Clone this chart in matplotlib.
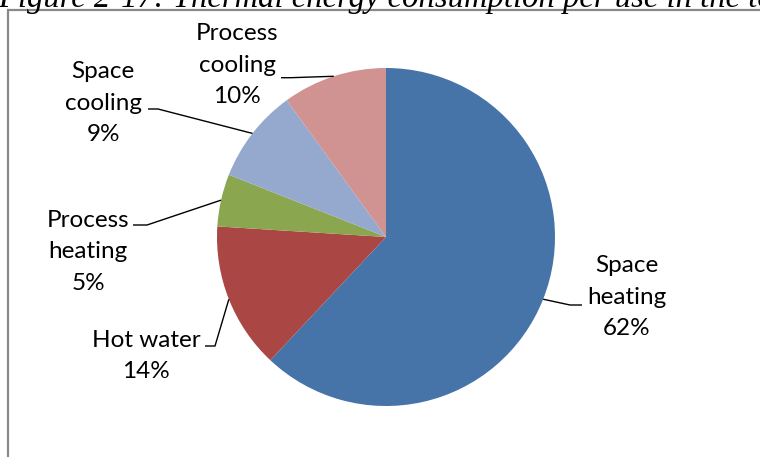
import numpy as np
import matplotlib
matplotlib.use("Agg")
import matplotlib.pyplot as plt
from matplotlib.patches import Rectangle

# ---- data ----
categories = ["Space heating", "Hot water", "Process heating", "Space cooling", "Process cooling"]
label_text = ["Space\nheating", "Hot water", "Process\nheating", "Space\ncooling", "Process\ncooling"]
values = [62, 14, 5, 9, 10]
colors = ["#4674A9", "#AA4744", "#8AA64F", "#95A9CE", "#D09392"]
title = "Figure 2-17: Thermal energy consumption per use in the text"

# ---- layout (pixels in a 760x457 image, origin top-left) ----
W, H = 760, 457
CX, CY, R = 386, 237, 169
label_pos = [(627, 297), (146, 356), (88, 252), (103, 103), (237, 65)]
# (x near text, x elbow, y) for the horizontal part of each leader line
leader_elbow = [(582, 570, 305), (205, 215, 346), (133, 147, 225),
                (148, 158, 109), (281, 291, 77.7)]

def P(x, y):
    return ((x - CX) / R, (CY - y) / R)

fig = plt.figure(figsize=(W / 100, H / 100), dpi=100)
ax = fig.add_axes([0, 0, 1, 1])
wedges, _ = ax.pie(values, colors=colors, startangle=90, counterclock=False,
                   radius=1, center=(0, 0),
                   wedgeprops=dict(linewidth=0))
ax.set_xlim(-CX / R, (W - CX) / R)
ax.set_ylim(-(H - CY) / R, CY / R)
ax.set_aspect("auto")
ax.axis("off")

font = "Lato"
for w, name, v, (lx, ly), (xt, xe, ye) in zip(wedges, label_text, values, label_pos, leader_elbow):
    ang = np.deg2rad((w.theta1 + w.theta2) / 2)
    ex, ey = np.cos(ang), np.sin(ang)
    x1, y1 = P(xe, ye)
    x2, y2 = P(xt, ye)
    ax.plot([ex, x1, x2], [ey, y1, y2], color="black", lw=1.0,
            solid_capstyle="butt", clip_on=False)
    tx, ty = P(lx, ly)
    ax.text(tx, ty, f"{name}\n{v}%", ha="center", va="center",
            fontsize=17.5, family=font, linespacing=1.6, color="black")

# chart border (only left and top edges visible in the crop)
fig.patches.append(Rectangle((8 / W, 1 - 600 / H), 900 / W, 590 / H,
                             transform=fig.transFigure, fill=False,
                             edgecolor="#898989", linewidth=1.6))

fig.text(-2 / W, 1 - 7 / H, title, ha="left", va="baseline",
         fontsize=23.5, family="Liberation Serif", style="italic", color="black")

fig.savefig("out.png", dpi=100)
